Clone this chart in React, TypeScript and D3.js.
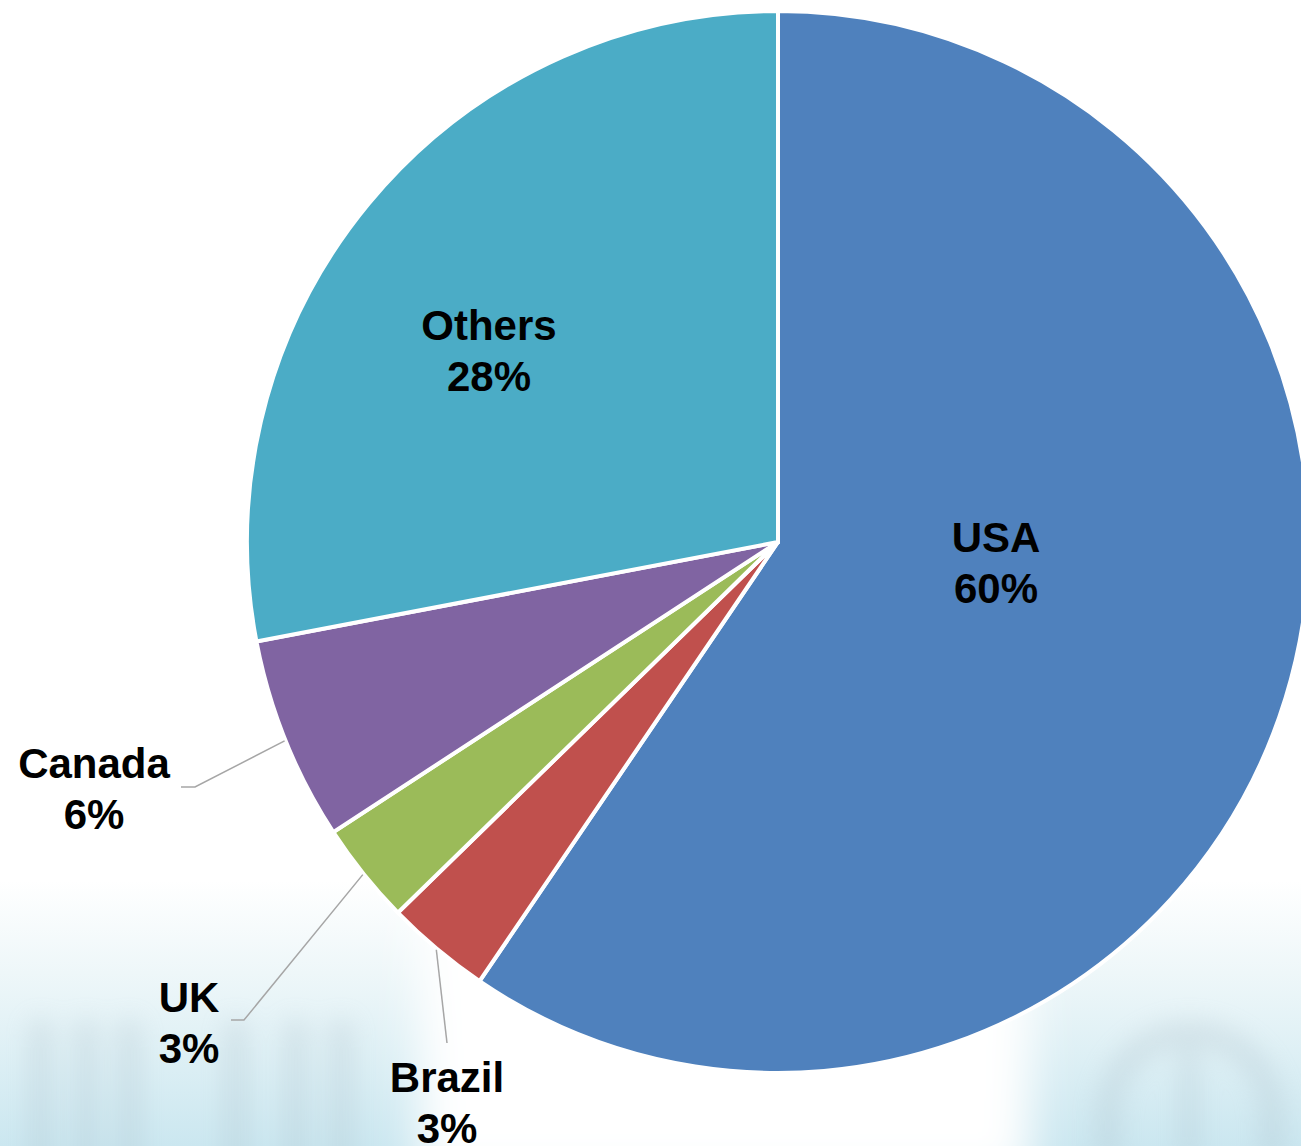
import React, { useEffect, useRef } from "react";
import * as d3 from "d3";

// slice data, clockwise from 12 o'clock
const countries = ["USA", "Brazil", "UK", "Canada", "Others"];
const shares = [59.5, 3.2, 3.1, 6.2, 28.0];
const colors = ["#4f81bd", "#c0504d", "#9bbb59", "#8064a2", "#4bacc6"];

// label placement (centre x, first baseline y); leader = elbow + end, null for inside labels
const labelLayout: { x: number; y: number; leader: [number, number][] | null }[] = [
  { x: 996, y: 552, leader: null },
  { x: 447, y: 1092, leader: [[447, 1043]] },
  { x: 189, y: 1012, leader: [[244, 1020], [231, 1020]] },
  { x: 94, y: 778, leader: [[195, 787], [181, 787]] },
  { x: 489, y: 340, leader: null },
];

const W = 1301;
const H = 1146;
const CX = 778;
const CY = 542;
const R = 531;

const App: React.FC = () => {
  const svgRef = useRef<SVGSVGElement>(null);

  useEffect(() => {
    if (!svgRef.current) return;
    const svg = d3.select(svgRef.current);
    svg.selectAll("*").remove();

    const defs = svg.append("defs");
    const grad = defs
      .append("linearGradient")
      .attr("id", "bgGrad")
      .attr("x1", "0")
      .attr("y1", "0")
      .attr("x2", "0")
      .attr("y2", "1");
    grad.append("stop").attr("offset", "0%").attr("stop-color", "#ffffff");
    grad.append("stop").attr("offset", "35%").attr("stop-color", "#eef7f9");
    grad.append("stop").attr("offset", "100%").attr("stop-color", "#cbe7f0");

    defs
      .append("filter")
      .attr("id", "blur")
      .attr("x", "-50%")
      .attr("y", "-50%")
      .attr("width", "200%")
      .attr("height", "200%")
      .append("feGaussianBlur")
      .attr("stdDeviation", 12);
    defs
      .append("filter")
      .attr("id", "blurBig")
      .attr("x", "-50%")
      .attr("y", "-50%")
      .attr("width", "200%")
      .attr("height", "200%")
      .append("feGaussianBlur")
      .attr("stdDeviation", 22);

    // backdrop: faded photo at the bottom
    svg.append("rect").attr("width", W).attr("height", H).attr("fill", "#ffffff");
    svg
      .append("rect")
      .attr("y", 880)
      .attr("width", W)
      .attr("height", H - 880)
      .attr("fill", "url(#bgGrad)");

    const deco = svg.append("g").attr("filter", "url(#blur)").attr("opacity", 0.28);
    [30, 75, 118, 225, 285, 330].forEach((x) => {
      deco
        .append("rect")
        .attr("x", x)
        .attr("y", 1020)
        .attr("width", 22)
        .attr("height", 160)
        .attr("fill", "#a9bcc6");
    });
    deco
      .append("path")
      .attr("d", "M1108,1160 L1108,1115 A82,82 0 0 1 1272,1115 L1272,1160")
      .attr("fill", "none")
      .attr("stroke", "#a9bcc6")
      .attr("stroke-width", 24);
    deco
      .append("rect")
      .attr("x", 1180)
      .attr("y", 1045)
      .attr("width", 18)
      .attr("height", 120)
      .attr("fill", "#a9bcc6");

    svg
      .append("rect")
      .attr("x", 420)
      .attr("y", 820)
      .attr("width", 610)
      .attr("height", 360)
      .attr("fill", "#ffffff")
      .attr("filter", "url(#blurBig)");

    // pie
    const pie = d3
      .pie<number>()
      .sort(null)
      .value((d) => d);
    const arcs = pie(shares);
    const arc = d3.arc<d3.PieArcDatum<number>>().innerRadius(0).outerRadius(R);

    const g = svg.append("g").attr("transform", `translate(${CX},${CY})`);

    g.selectAll("path.slice")
      .data(arcs)
      .join("path")
      .attr("class", "slice")
      .attr("d", arc)
      .attr("fill", (_, i) => colors[i])
      .attr("stroke", "#ffffff")
      .attr("stroke-width", 4)
      .attr("stroke-linejoin", "miter");

    // leader lines
    arcs.forEach((a, i) => {
      const lay = labelLayout[i];
      if (!lay.leader) return;
      const mid = (a.startAngle + a.endAngle) / 2;
      const start: [number, number] = [CX + (R + 1) * Math.sin(mid), CY - (R + 1) * Math.cos(mid)];
      const pts: [number, number][] = [start, ...lay.leader];
      svg
        .append("path")
        .attr("d", d3.line()(pts))
        .attr("fill", "none")
        .attr("stroke", "#a6a6a6")
        .attr("stroke-width", 1.5);
    });

    // labels
    arcs.forEach((a, i) => {
      const lay = labelLayout[i];
      const t = svg
        .append("text")
        .attr("text-anchor", "middle")
        .style("font-family", "'Liberation Sans', Arial, Helvetica, sans-serif")
        .style("font-weight", "700")
        .style("font-size", "42px")
        .style("fill", "#000000");
      t.append("tspan").attr("x", lay.x).attr("y", lay.y).text(countries[i]);
      t.append("tspan")
        .attr("x", lay.x)
        .attr("y", lay.y + 51)
        .text(`${Math.round(a.data)}%`);
    });
  }, []);

  return (
    <div style={{ position: "absolute", left: 0, top: 0, width: W, height: H, overflow: "hidden" }}>
      <svg ref={svgRef} width={W} height={H} style={{ display: "block" }} />
    </div>
  );
};

export default App;
